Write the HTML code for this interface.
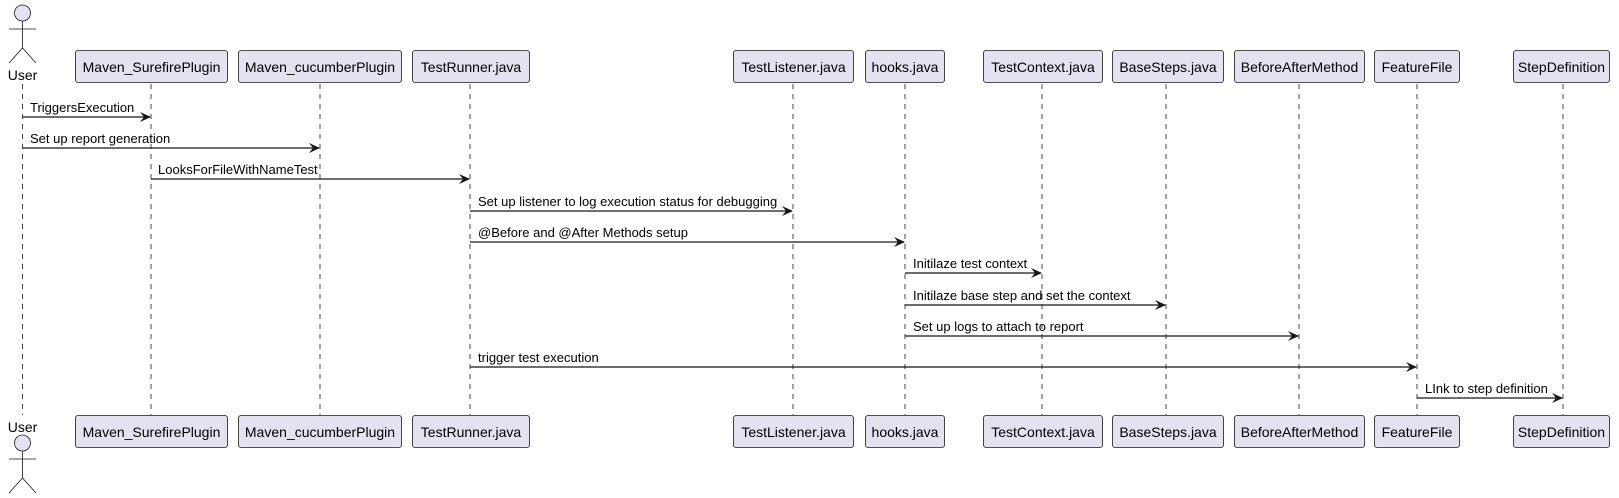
<!DOCTYPE html>
<html><head><meta charset="utf-8"><style>
html,body{margin:0;padding:0;background:#fff;}
svg{display:block;}
text{font-family:"Liberation Sans",Arial,sans-serif;fill:#000;}
</style></head><body>
<svg width="1619" height="498" viewBox="0 0 1619 498" xmlns="http://www.w3.org/2000/svg">
<g stroke="#181818" stroke-width="0.8" stroke-dasharray="5,5" fill="none">
<line x1="22.5" y1="84" x2="22.5" y2="415"/>
<line x1="151" y1="84" x2="151" y2="415"/>
<line x1="320" y1="84" x2="320" y2="415"/>
<line x1="470" y1="84" x2="470" y2="415"/>
<line x1="793" y1="84" x2="793" y2="415"/>
<line x1="905" y1="84" x2="905" y2="415"/>
<line x1="1042" y1="84" x2="1042" y2="415"/>
<line x1="1166" y1="84" x2="1166" y2="415"/>
<line x1="1299" y1="84" x2="1299" y2="415"/>
<line x1="1417" y1="84" x2="1417" y2="415"/>
<line x1="1563" y1="84" x2="1563" y2="415"/>
</g>
<!-- actors -->
<g stroke="#181818" stroke-width="0.8" fill="#E2E2F0">
<circle cx="22.5" cy="13" r="8"/>
<line x1="22.5" y1="21" x2="22.5" y2="48"/><line x1="9" y1="29" x2="36" y2="29"/>
<polyline points="9,63 22.5,48 36,63" fill="none"/>
<circle cx="22.5" cy="443" r="8"/>
<line x1="22.5" y1="451" x2="22.5" y2="478"/><line x1="9" y1="459" x2="36" y2="459"/>
<polyline points="9,493 22.5,478 36,493" fill="none"/>
</g>
<text x="22.5" y="80" font-size="14" text-anchor="middle">User</text>
<text x="22.5" y="432" font-size="14" text-anchor="middle">User</text>
<!-- boxes -->
<g stroke="#181818" stroke-width="0.8" fill="#E2E2F0">
<rect x="75.5" y="50.5" width="152" height="32" rx="2.5"/>
<rect x="238.5" y="50.5" width="163" height="32" rx="2.5"/>
<rect x="412.5" y="50.5" width="117" height="32" rx="2.5"/>
<rect x="733.5" y="50.5" width="120" height="32" rx="2.5"/>
<rect x="865.5" y="50.5" width="79" height="32" rx="2.5"/>
<rect x="983.5" y="50.5" width="119" height="32" rx="2.5"/>
<rect x="1112.5" y="50.5" width="111" height="32" rx="2.5"/>
<rect x="1234.5" y="50.5" width="130" height="32" rx="2.5"/>
<rect x="1374.5" y="50.5" width="85" height="32" rx="2.5"/>
<rect x="1513.5" y="50.5" width="96" height="32" rx="2.5"/>
<rect x="75.5" y="415.5" width="152" height="32" rx="2.5"/>
<rect x="238.5" y="415.5" width="163" height="32" rx="2.5"/>
<rect x="412.5" y="415.5" width="117" height="32" rx="2.5"/>
<rect x="733.5" y="415.5" width="120" height="32" rx="2.5"/>
<rect x="865.5" y="415.5" width="79" height="32" rx="2.5"/>
<rect x="983.5" y="415.5" width="119" height="32" rx="2.5"/>
<rect x="1112.5" y="415.5" width="111" height="32" rx="2.5"/>
<rect x="1234.5" y="415.5" width="130" height="32" rx="2.5"/>
<rect x="1374.5" y="415.5" width="85" height="32" rx="2.5"/>
<rect x="1513.5" y="415.5" width="96" height="32" rx="2.5"/>
</g>
<g font-size="14" text-anchor="middle">
<text x="151.5" y="72">Maven_SurefirePlugin</text>
<text x="320" y="72">Maven_cucumberPlugin</text>
<text x="471" y="72">TestRunner.java</text>
<text x="793.5" y="72">TestListener.java</text>
<text x="905" y="72">hooks.java</text>
<text x="1043" y="72">TestContext.java</text>
<text x="1168" y="72">BaseSteps.java</text>
<text x="1299.5" y="72">BeforeAfterMethod</text>
<text x="1417" y="72">FeatureFile</text>
<text x="1561.5" y="72">StepDefinition</text>
<text x="151.5" y="437">Maven_SurefirePlugin</text>
<text x="320" y="437">Maven_cucumberPlugin</text>
<text x="471" y="437">TestRunner.java</text>
<text x="793.5" y="437">TestListener.java</text>
<text x="905" y="437">hooks.java</text>
<text x="1043" y="437">TestContext.java</text>
<text x="1168" y="437">BaseSteps.java</text>
<text x="1299.5" y="437">BeforeAfterMethod</text>
<text x="1417" y="437">FeatureFile</text>
<text x="1561.5" y="437">StepDefinition</text>
</g>
<!-- messages -->
<g stroke="#181818" stroke-width="1.2">
<line x1="22.5" y1="117" x2="150" y2="117"/>
<line x1="22.5" y1="148" x2="319" y2="148"/>
<line x1="151" y1="179" x2="469" y2="179"/>
<line x1="470" y1="211" x2="792" y2="211"/>
<line x1="470" y1="242" x2="904" y2="242"/>
<line x1="905" y1="273" x2="1041" y2="273"/>
<line x1="905" y1="305" x2="1165" y2="305"/>
<line x1="905" y1="336" x2="1298" y2="336"/>
<line x1="470" y1="367" x2="1416" y2="367"/>
<line x1="1417" y1="398" x2="1562" y2="398"/>
</g>
<g fill="#181818">
<polygon points="140,112 151,117 140,122 144,117"/>
<polygon points="309,143 320,148 309,153 313,148"/>
<polygon points="459,174 470,179 459,184 463,179"/>
<polygon points="782,206 793,211 782,216 786,211"/>
<polygon points="894,237 905,242 894,247 898,242"/>
<polygon points="1031,268 1042,273 1031,278 1035,273"/>
<polygon points="1155,300 1166,305 1155,310 1159,305"/>
<polygon points="1288,331 1299,336 1288,341 1292,336"/>
<polygon points="1406,362 1417,367 1406,372 1410,367"/>
<polygon points="1552,393 1563,398 1552,403 1556,398"/>
</g>
<g font-size="13">
<text x="30" y="112">TriggersExecution</text>
<text x="30" y="143">Set up report generation</text>
<text x="158" y="174">LooksForFileWithNameTest</text>
<text x="478" y="206">Set up listener to log execution status for debugging</text>
<text x="478" y="237">@Before and @After Methods setup</text>
<text x="913" y="268">Initilaze test context</text>
<text x="913" y="300">Initilaze base step and set the context</text>
<text x="913" y="331">Set up logs to attach to report</text>
<text x="478" y="362">trigger test execution</text>
<text x="1425" y="393">LInk to step definition</text>
</g>
</svg>
</body></html>
